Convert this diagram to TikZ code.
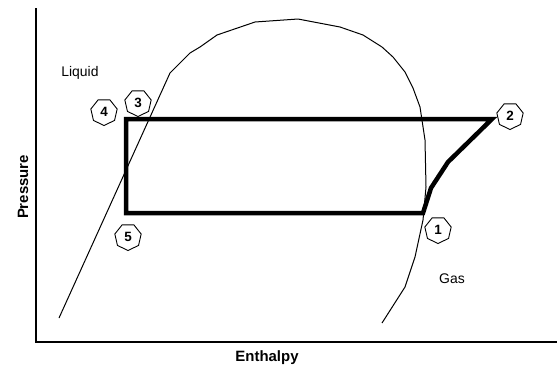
\documentclass[tikz,border=0pt]{standalone}
\usepackage{fontspec}
\setmainfont{Liberation Sans}
\usepackage{tikz}
\usetikzlibrary{shapes.geometric, positioning}

\begin{document}
\begin{tikzpicture}[x=1bp, y=-1bp,
    statept/.style={regular polygon, regular polygon sides=7, shape border rotate=180,
      draw, line width=0.9bp, minimum size=27bp, inner sep=0pt, font=\fontsize{13.5}{13.5}\selectfont\bfseries},
    cycleline/.style={line width=4.5bp, line join=miter},
    domeline/.style={line width=1bp, line join=round},
    axisline/.style={line width=2.6bp}]
        \useasboundingbox (0,0) rectangle (557,368);
        % Axes
        \coordinate (ytop) at (36,8);
        \coordinate (orig) at (36,342);
        \coordinate (xend) at (557,342);
        \draw[axisline] (ytop) -- (orig) -- (xend);
        \node[font=\fontsize{15}{15}\selectfont\bfseries, rotate=90] (ylab) at (23,187) {Pressure};
        \node[font=\fontsize{15}{15}\selectfont\bfseries] (xlab) at (267,358) {Enthalpy};
        % Saturation dome
        \draw[domeline] plot coordinates
          {(59,318)(170,73)(190,53)(200,47)(217,35)(255,22)(298,19)(340,27)(363,35)
           (382,47)(393,57)(405,72)(413,88)(420,107)(425,140)(426,187)(423,220)
           (415,257)(405,287)(382,323)};
        % Region labels
        \node[font=\fontsize{14}{14}\selectfont] (liq) at (80,73) {Liquid};
        \node[font=\fontsize{14}{14}\selectfont] (gas) at (452,279) {Gas};
        % Cycle
        \coordinate (c1) at (423,213);
        \coordinate (c1b) at (431,188);
        \coordinate (c1c) at (448,162);
        \coordinate (c2) at (492,119);
        \coordinate (c3) at (126,119);
        \coordinate (c5) at (126,213);
        \draw[cycleline] (c1) -- (c1b) -- (c1c) -- (c2) -- (c3) -- (c5) -- cycle;
        % State points
        \node[statept] (p1) at (438,230) {1};
        \node[statept] (p2) at (510,116) {2};
        \node[statept] (p3) at (138,103) {3};
        \node[statept] (p4) at (104,112) {4};
        \node[statept] (p5) at (128,237) {5};
      \end{tikzpicture}
\end{document}
